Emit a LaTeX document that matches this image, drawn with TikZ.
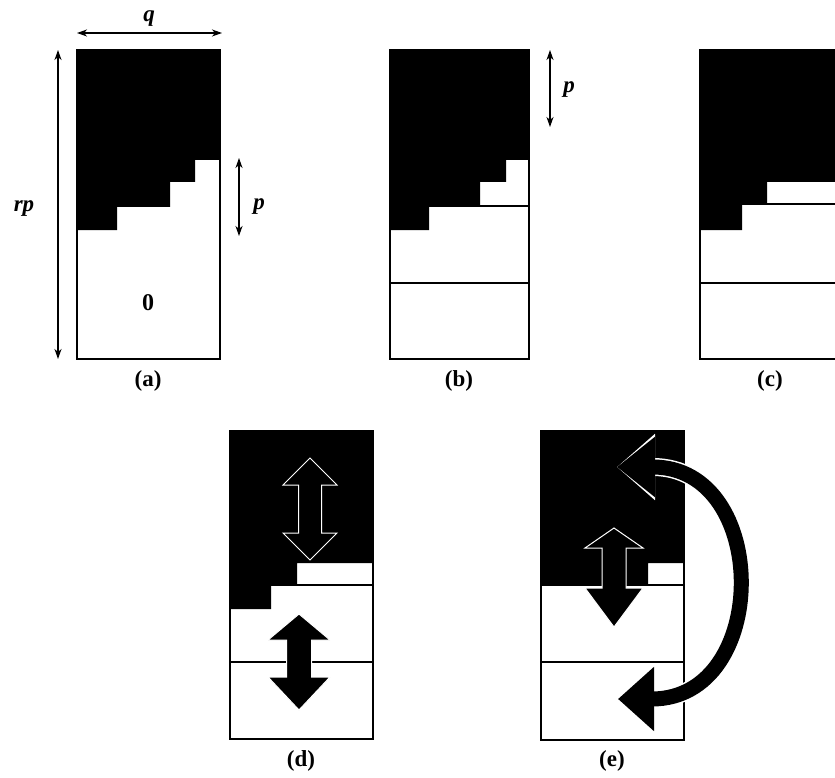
\documentclass[tikz,border=0pt]{standalone}
\usepackage{fontspec}
\setmainfont{Liberation Serif}
\usetikzlibrary{arrows.meta}

\begin{document}
\begin{tikzpicture}[x=1pt, y=-1pt, >={Stealth[length=10pt, width=7pt, inset=3pt]},
    panel/.style={draw, line width=1.6pt},
    rule/.style={line width=1.3pt},
    block/.style={fill=black, draw=white, line width=1pt, line join=miter},
    tag/.style={font=\bfseries\fontsize{23}{26}\selectfont},
    dim/.style={font=\bfseries\itshape\fontsize{23}{26}\selectfont}]
    \useasboundingbox (0,0) rectangle (835,778);
    \clip (0,0) rectangle (835,778);

    % (a)
    \fill (77,50) -- (220,50) -- (220,160) -- (195,160) -- (195,182) -- (170,182) -- (170,207)
        -- (117,207) -- (117,230) -- (77,230) -- cycle;
    \draw [panel] (77,50) rectangle (220,359);
    \coordinate (qL) at (77,33);
    \coordinate (qR) at (222,33);
    \coordinate (rpT) at (58,50);
    \coordinate (rpB) at (58,359);
    \coordinate (paT) at (239,158);
    \coordinate (paB) at (239,236);
    \draw [<->, line width=1.3pt] (qL) -- (qR);
    \draw [<->, line width=1.3pt] (rpT) -- (rpB);
    \draw [<->, line width=1.3pt] (paT) -- (paB);
    \node [dim] (q) at (149,19) {q};
    \node [dim] (rp) at (24,209) {rp};
    \node [dim] (pa) at (259,207) {p};
    \node [font=\bfseries\fontsize{24}{28}\selectfont] (zero) at (148,303) {0};
    \node [tag] (taga) at (148,381) {(a)};

    % (b)
    \fill (390,50) -- (529,50) -- (529,160) -- (506,160) -- (506,182) -- (480,182) -- (480,206)
        -- (429,206) -- (429,230) -- (390,230) -- cycle;
    \draw [rule] (429,206) -- (529,206);
    \draw [rule] (390,283) -- (529,283);
    \draw [panel] (390,50) rectangle (529,359);
    \coordinate (pbT) at (550,50);
    \coordinate (pbB) at (550,127);
    \draw [<->, line width=1.3pt] (pbT) -- (pbB);
    \node [dim] (pb) at (569,90) {p};
    \node [tag] (tagb) at (459,381) {(b)};

    % (c)
    \fill (700,50) -- (842,50) -- (842,182) -- (767,182) -- (767,204) -- (742,204) -- (742,230)
        -- (700,230) -- cycle;
    \draw [rule] (742,204) -- (842,204);
    \draw [rule] (700,283) -- (842,283);
    \draw [panel] (700,50) rectangle (842,359);
    \node [tag] (tagc) at (770,381) {(c)};

    % (d)
    \fill (230,431) -- (373,431) -- (373,563) -- (297,563) -- (297,585) -- (271,585) -- (271,609)
        -- (230,609) -- cycle;
    \draw [rule] (271,585) -- (373,585);
    \draw [rule] (230,662) -- (373,662);
    \draw [panel] (230,431) rectangle (373,739);
    \draw [block] (310,458) -- (337,485) -- (321.5,485) -- (321.5,533) -- (337,533) -- (310,560)
        -- (283,533) -- (298.5,533) -- (298.5,485) -- (283,485) -- cycle;
    \draw [block] (299,614) -- (330,640) -- (311.5,640) -- (311.5,677) -- (330,677) -- (299,710)
        -- (268,677) -- (286.5,677) -- (286.5,640) -- (268,640) -- cycle;
    \node [tag] (tagd) at (301,761) {(d)};

    % (e)
    \fill (541,431) -- (684,431) -- (684,563) -- (648,563) -- (648,585) -- (541,585) -- cycle;
    \draw [rule] (541,585) -- (684,585);
    \draw [rule] (541,662) -- (684,662);
    \draw [panel] (541,431) rectangle (684,740);
    \draw [block] (614,528) -- (643,548) -- (626,548) -- (626,588) -- (643,588) -- (614,627)
        -- (585,588) -- (602,588) -- (602,548) -- (585,548) -- cycle;
    \coordinate (swapT) at (617,467);
    \coordinate (swapB) at (618,699);
    % white rim first so the head shows against the dark fill
    \draw [white, line width=18pt, {Triangle[length=38pt, width=64pt]}-{Triangle[length=36pt, width=68pt]}]
        (swapT) .. controls (771,467) and (771,699) .. (swapB);
    \draw [line width=15pt, {Triangle[length=38pt, width=58pt]}-{Triangle[length=36pt, width=62pt]}]
        (swapT) .. controls (771,467) and (771,699) .. (swapB);
    \node [tag] (tage) at (612,761) {(e)};
\end{tikzpicture}
\end{document}
